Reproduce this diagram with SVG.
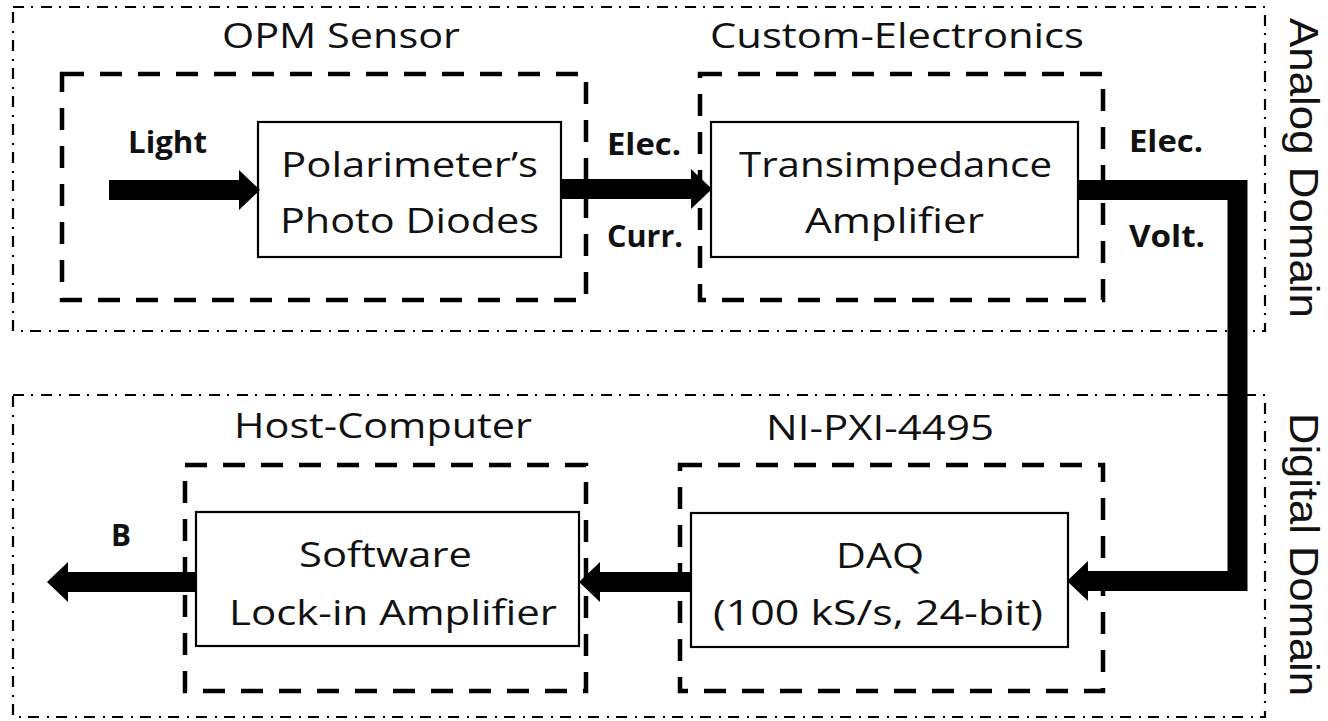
<svg xmlns="http://www.w3.org/2000/svg" width="1328" height="721" viewBox="0 0 1328 721">
<style>
.domain{fill:none;stroke:#000;stroke-width:2.2;stroke-dasharray:11 7 2 8}
.group{fill:none;stroke:#000;stroke-width:4.5;stroke-dasharray:22 16}
.box{fill:#fff;stroke:#000;stroke-width:2.2}
.t{font-family:"Open Sans","Liberation Sans",sans-serif;font-size:35px;fill:#111}
.b{font-family:"Open Sans","Liberation Sans",sans-serif;font-size:31px;font-weight:bold;fill:#111}
.d{font-family:"Liberation Sans","Open Sans",sans-serif;font-size:40px;fill:#111}
.wire{fill:none;stroke:#000;stroke-width:20;stroke-linejoin:miter}
</style>
<defs>
<marker id="head" markerUnits="userSpaceOnUse" markerWidth="21" markerHeight="42" viewBox="0 0 21 42" refX="0" refY="21" orient="auto">
<path d="M0,1 L21,21 L0,41 Z" fill="#000"/>
</marker>
</defs>
<rect class="domain" x="13" y="7" width="1252" height="324"/>
<rect class="domain" x="13" y="395" width="1252" height="322"/>
<text class="d" transform="translate(1290,18) rotate(90)" textLength="300" lengthAdjust="spacingAndGlyphs">Analog Domain</text>
<text class="d" transform="translate(1290,413) rotate(90)" textLength="283" lengthAdjust="spacingAndGlyphs">Digital Domain</text>
<g id="opm-sensor">
<rect class="group" x="62" y="74" width="524" height="226"/>
<text class="t" x="222" y="48" textLength="238" lengthAdjust="spacingAndGlyphs">OPM Sensor</text>
</g>
<g id="polarimeter">
<rect class="box" x="258" y="122" width="303" height="135"/>
<text class="t" x="281" y="177" textLength="257" lengthAdjust="spacingAndGlyphs">Polarimeter’s</text>
<text class="t" x="280" y="233" textLength="259" lengthAdjust="spacingAndGlyphs">Photo Diodes</text>
</g>
<g id="custom-electronics">
<rect class="group" x="700" y="74" width="403" height="226"/>
<text class="t" x="710" y="48" textLength="374" lengthAdjust="spacingAndGlyphs">Custom-Electronics</text>
</g>
<g id="tia">
<rect class="box" x="711" y="122" width="367" height="135"/>
<text class="t" x="739" y="177" textLength="313" lengthAdjust="spacingAndGlyphs">Transimpedance</text>
<text class="t" x="805" y="233" textLength="179" lengthAdjust="spacingAndGlyphs">Amplifier</text>
</g>
<g id="host-computer">
<rect class="group" x="185" y="465" width="401" height="226"/>
<text class="t" x="234" y="438" textLength="298" lengthAdjust="spacingAndGlyphs">Host-Computer</text>
</g>
<g id="lockin">
<rect class="box" x="196" y="512" width="383" height="134"/>
<text class="t" x="299" y="567" textLength="173" lengthAdjust="spacingAndGlyphs">Software</text>
<text class="t" x="229" y="625" textLength="328" lengthAdjust="spacingAndGlyphs">Lock-in Amplifier</text>
</g>
<g id="ni-pxi">
<rect class="group" x="680" y="465" width="423" height="226"/>
<text class="t" x="766" y="440" textLength="228" lengthAdjust="spacingAndGlyphs">NI-PXI-4495</text>
</g>
<g id="daq">
<rect class="box" x="691" y="513" width="377" height="134"/>
<text class="t" x="836" y="568" textLength="88" lengthAdjust="spacingAndGlyphs">DAQ</text>
<text class="t" x="713" y="625" textLength="330" lengthAdjust="spacingAndGlyphs">(100 kS/s, 24-bit)</text>
</g>
<g id="connectors">
<path class="wire" d="M109,190 H239" marker-end="url(#head)"/>
<path class="wire" d="M562,189 H691" marker-end="url(#head)"/>
<path class="wire" d="M1078,190 H1237.5 V581 H1088" marker-end="url(#head)"/>
<path class="wire" d="M691,582 H600" marker-end="url(#head)"/>
<path class="wire" d="M197,582 H68" marker-end="url(#head)"/>
<text class="b" x="128" y="153" textLength="79" lengthAdjust="spacingAndGlyphs">Light</text>
<text class="b" x="607" y="155" textLength="74" lengthAdjust="spacingAndGlyphs">Elec.</text>
<text class="b" x="607" y="247" textLength="76" lengthAdjust="spacingAndGlyphs">Curr.</text>
<text class="b" x="1129" y="152" textLength="74" lengthAdjust="spacingAndGlyphs">Elec.</text>
<text class="b" x="1129" y="247" textLength="76" lengthAdjust="spacingAndGlyphs">Volt.</text>
<text class="b" x="111" y="546" textLength="20" lengthAdjust="spacingAndGlyphs">B</text>
</g>
</svg>
